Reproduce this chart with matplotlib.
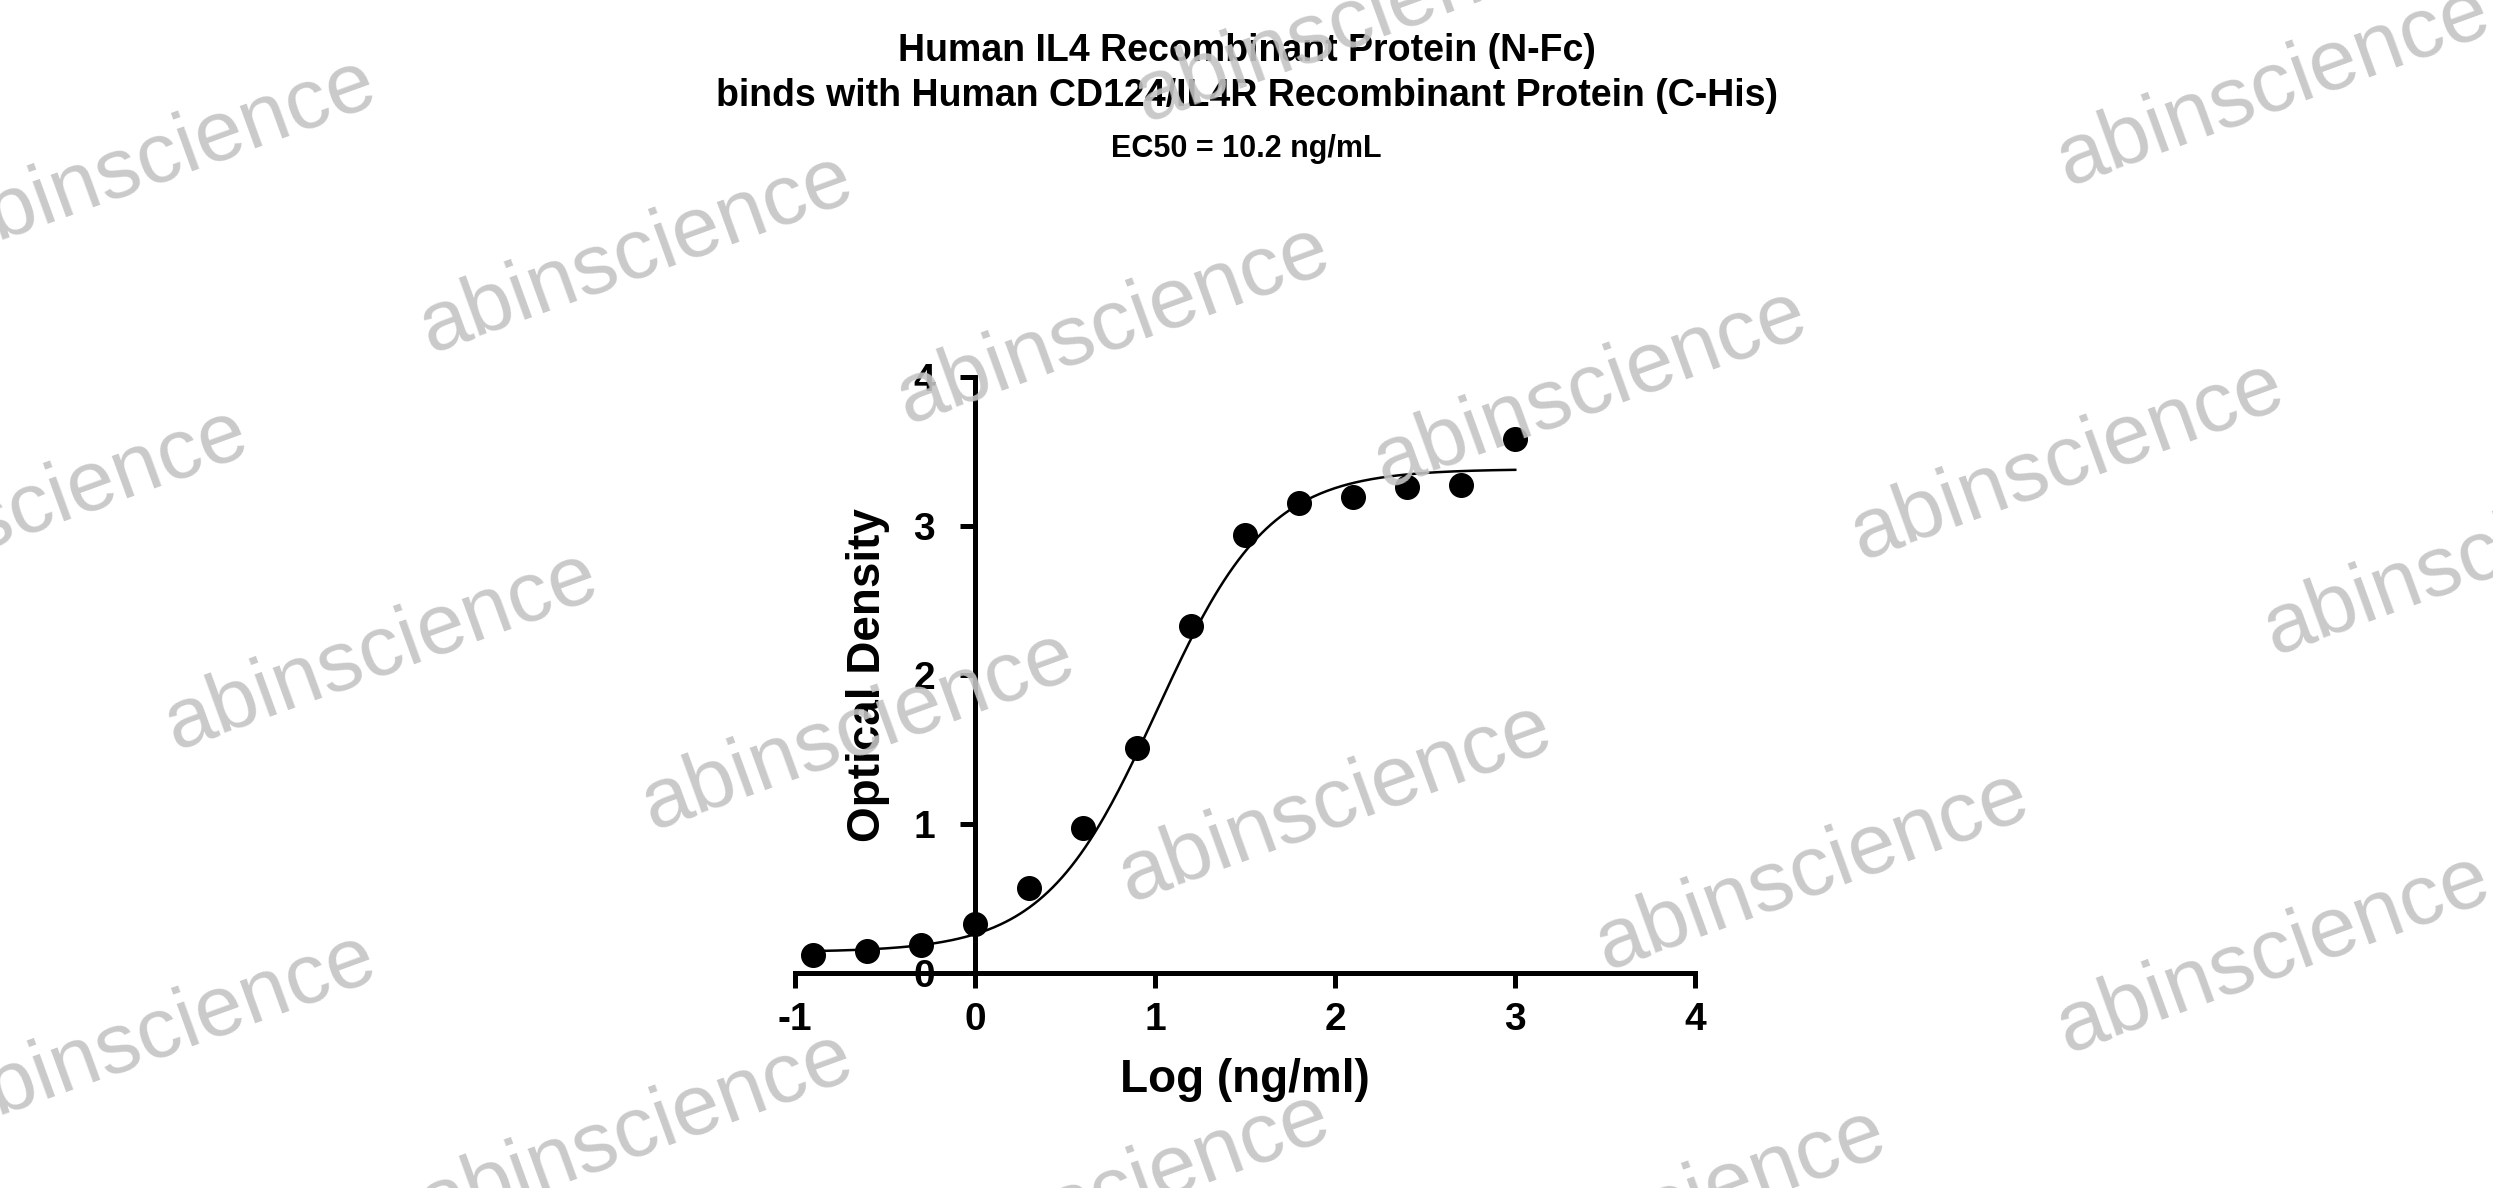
import numpy as np
import matplotlib
matplotlib.use("Agg")
import matplotlib.pyplot as plt

plt.rcParams['font.family'] = ['Liberation Sans', 'DejaVu Sans']
plt.rcParams['axes.unicode_minus'] = False

log_conc = [-0.9, -0.6, -0.3, 0.0, 0.3, 0.6, 0.9, 1.2, 1.5, 1.8, 2.1, 2.4, 2.7, 3.0]
od = [0.12, 0.15, 0.19, 0.33, 0.57, 0.97, 1.51, 2.33, 2.94, 3.15, 3.19, 3.26, 3.27, 3.58]
# 4PL fit parameters
bottom, top, log_ec50, hill = 0.14, 3.38, 1.009, 1.4
xticks = [-1, 0, 1, 2, 3, 4]
yticks = [0, 1, 2, 3, 4]

fig = plt.figure(figsize=(24.93, 11.88), dpi=100)
ax = fig.add_axes([0.319, 0.181, 0.361, 0.502])

xc = np.linspace(log_conc[0], log_conc[-1], 300)
yc = bottom + (top - bottom) / (1 + 10 ** ((log_ec50 - xc) * hill))
ax.plot(xc, yc, color='black', lw=1.8)
ax.plot(log_conc, od, 'o', color='black', ms=17)

ax.set_xlim(-1, 4)
ax.set_ylim(0, 4)
ax.spines['top'].set_visible(False)
ax.spines['right'].set_visible(False)
ax.spines['left'].set_position(('data', 0))
for s in ['left', 'bottom']:
    ax.spines[s].set_linewidth(3.6)
ax.set_xticks(xticks)
ax.set_yticks(yticks)
ax.tick_params(width=3.6, length=11, labelsize=28)
ax.tick_params(axis='y', pad=18)
ax.tick_params(axis='x', pad=10)
for lab in ax.get_xticklabels() + ax.get_yticklabels():
    lab.set_fontweight('bold')
ax.set_xlabel('Log (ng/ml)', fontsize=33, fontweight='bold', labelpad=14)
ax.set_ylabel('Optical Density', fontsize=33, fontweight='bold')
ax.yaxis.set_label_coords(0.105, 0.5)
ax.patch.set_alpha(0)

fig.text(0.5, 0.957, 'Human IL4 Recombinant Protein (N-Fc)', ha='center', va='center', fontsize=27, fontweight='bold')
fig.text(0.5, 0.919, 'binds with Human CD124/IL4R Recombinant Protein (C-His)', ha='center', va='center', fontsize=27, fontweight='bold')
fig.text(0.5, 0.875, 'EC50 = 10.2 ng/mL', ha='center', va='center', fontsize=22, fontweight='bold')

wm = [(400, 160), (700, 205), (1000, 245), (1300, 290), (1430, 55), (850, 15),
      (240, 410), (540, 460), (840, 505), (1140, 548), (1430, 600), (1560, 350),
      (100, 650), (400, 712), (700, 750), (1050, 760), (100, 100), (20, 320)]
for x, y in wm:
    fig.text(x / 1568, 1 - y / 747, 'abinscience', ha='center', va='center',
             rotation=20, fontsize=62, color='#c4c4c4', alpha=0.9, zorder=10)

fig.savefig('out.png', dpi=100)
